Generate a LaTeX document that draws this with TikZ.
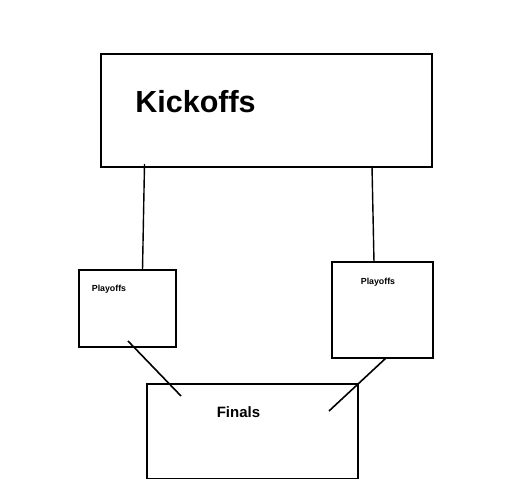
\documentclass[tikz,border=0pt]{standalone}
\usepackage{fontspec}
\setmainfont{Liberation Sans}
\begin{document}
\begin{tikzpicture}[x=1pt,y=-1pt,
  box/.style={draw=black,line width=1.8pt,inner sep=0pt,outer sep=0pt,anchor=north west},
  lbl/.style={inner sep=0pt,anchor=base,font=\bfseries},
  conn/.style={draw=black,line width=1.4pt}]
\useasboundingbox[fill=white] (0,0) rectangle (531,480);
% boxes
\node[box,minimum width=331pt,minimum height=113pt] (kick) at (101,54) {};
\node[box,minimum width=97pt,minimum height=77pt] (pl) at (79,270) {};
\node[box,minimum width=101pt,minimum height=96pt] (pr) at (332,262) {};
\node[box,minimum width=211pt,minimum height=94.5pt] (fin) at (147,384) {};
% labels
\node[lbl,font=\bfseries\fontsize{30.5}{36}\selectfont] (tkick) at (195.5,112) {Kickoffs};
\node[lbl,font=\bfseries\fontsize{8.8}{10}\selectfont] (tpl) at (109,291.5) {Playoffs};
\node[lbl,font=\bfseries\fontsize{8.8}{10}\selectfont] (tpr) at (378,284.5) {Playoffs};
\node[lbl,font=\bfseries\fontsize{15}{18}\selectfont] (tfin) at (238.5,417) {Finals};
% connector ends
\coordinate (k1) at (144.5,164);
\coordinate (k2) at (372,166);
\coordinate (p1t) at (142.5,270);
\coordinate (p2t) at (374,262);
\coordinate (p1b) at (128,341);
\coordinate (f1) at (181,396);
\coordinate (p2b) at (386,358);
\coordinate (f2) at (329,411);
\draw[conn] (k1) -- (p1t);
\draw[conn] (k2) -- (p2t);
\draw[conn,line width=1.6pt] (p1b) -- (f1);
\draw[conn,line width=1.6pt] (p2b) -- (f2);
\end{tikzpicture}
\end{document}
